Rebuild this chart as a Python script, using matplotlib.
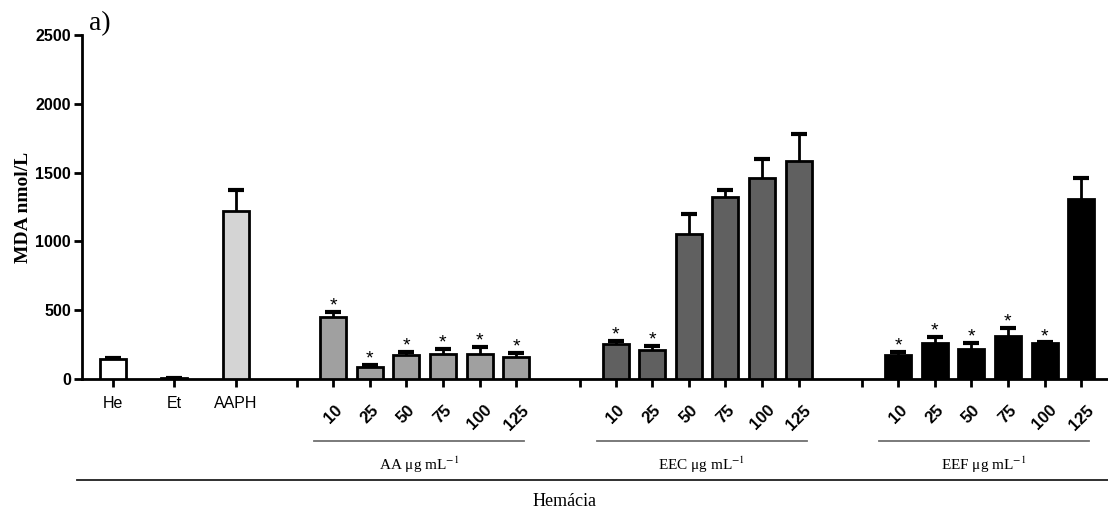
import matplotlib
matplotlib.use('Agg')
import matplotlib.pyplot as plt
import numpy as np

plt.rcParams['font.family'] = 'Liberation Sans'
plt.rcParams['mathtext.fontset'] = 'stix'

# data (MDA nmol/L)
base_labels = ['He', 'Et', 'AAPH']
base_values = [145, 5, 1221]
base_errors = [10, 3, 155]
base_colors = ['white', 'white', '#d4d4d4']

conc_labels = ['10', '25', '50', '75', '100', '125']
group_names = ['AA', 'EEC', 'EEF']
group_colors = ['#a0a0a0', '#606060', '#000000']

aa_values = [450, 87, 174, 182, 182, 160]
aa_errors = [37, 15, 22, 36, 51, 29]
aa_stars = [True, True, True, True, True, True]

eec_values = [254, 211, 1054, 1323, 1461, 1584]
eec_errors = [22, 29, 145, 50, 138, 196]
eec_stars = [True, True, False, False, False, False]

eef_values = [174, 262, 218, 312, 262, 1308]
eef_errors = [22, 43, 44, 58, 4, 150]
eef_stars = [True, True, True, True, True, False]

group_values = [aa_values, eec_values, eef_values]
group_errors = [aa_errors, eec_errors, eef_errors]
group_stars = [aa_stars, eec_stars, eef_stars]

# layout in pixel-like x units
W, H = 1108, 511
fig = plt.figure(figsize=(W / 100, H / 100), dpi=100)
ax = fig.add_axes([82 / W, 1 - 379 / H, 1 - 82 / W, (379 - 35) / H])
ax.set_xlim(82, 1108)
ax.set_ylim(0, 2500)

base_x = 113 + 61.3 * np.arange(3)
group_step = 282.5
bar_step = 36.65
bar_w = 26
sep_ticks = [297 + k * group_step for k in range(3)]


def draw(xs, vals, errs, colors, stars):
    ax.bar(xs, vals, width=bar_w, color=colors, edgecolor='black', linewidth=2, zorder=3)
    eb = ax.errorbar(xs, vals, yerr=[np.zeros(len(vals)), errs], fmt='none', ecolor='black',
                     elinewidth=2, capsize=6, capthick=3, zorder=2)
    eb[1][0].set_visible(False)  # no cap at the bar top
    for x, v, e, s in zip(xs, vals, errs, stars):
        if s:
            ax.annotate('*', (x, v + e), xytext=(0, -2), textcoords='offset points',
                        ha='center', va='bottom', fontsize=14, zorder=4)


draw(base_x, base_values, base_errors, base_colors, [False] * 3)

tick_pos = list(base_x)
tick_lab = list(base_labels)
group_x = []
for k in range(3):
    xs = 333 + k * group_step + bar_step * np.arange(6)
    group_x.append(xs)
    draw(xs, group_values[k], group_errors[k], [group_colors[k]] * 6, group_stars[k])
    tick_pos += list(xs)
    tick_lab += conc_labels

ax.set_xticks(tick_pos)
ax.set_xticklabels(tick_lab)
ax.set_xticks(sep_ticks, minor=True)
ax.tick_params(axis='x', which='both', length=6, width=2, direction='out')
for i, t in enumerate(ax.get_xticklabels()):
    if i < 3:
        t.set_fontsize(11.5)
        t.set_y(-0.012)
    else:
        t.set_fontsize(12)
        t.set_fontweight('bold')
        t.set_rotation(45)
        t.set_ha('center')
        t.set_y(-0.03)

ax.set_yticks(np.arange(0, 2501, 500))
ax.tick_params(axis='y', length=6, width=2, pad=2, labelsize=11.5)
for t in ax.get_yticklabels():
    t.set_fontweight('bold')

for s in ['top', 'right']:
    ax.spines[s].set_visible(False)
ax.spines['left'].set_linewidth(2)
ax.spines['bottom'].set_linewidth(2)

ax.set_ylabel('MDA nmol/L', family='Liberation Serif', fontweight='bold', fontsize=14, labelpad=2)

# group annotations below the axis
for k in range(3):
    xs = group_x[k]
    x0, x1 = xs[0] - 19, xs[-1] + 8
    fig.add_artist(plt.Line2D([x0 / W, x1 / W], [1 - 441 / H] * 2, color='#707070', lw=1.3))
    fig.text((x0 + x1) / 2 / W, 1 - 465 / H, group_names[k] + r' μg mL$^{-1}$',
             family='Liberation Serif', fontsize=11, ha='center', va='center')

fig.add_artist(plt.Line2D([77 / W, 1.0], [1 - 480 / H] * 2, color='#202020', lw=1.3))
fig.text(565 / W, 1 - 501 / H, 'Hemácia', family='Liberation Serif', fontsize=13,
         ha='center', va='center')
fig.text(89 / W, 1 - 24 / H, 'a)', family='Liberation Serif', fontsize=20,
         ha='left', va='center')

fig.savefig('out.png', dpi=100)
